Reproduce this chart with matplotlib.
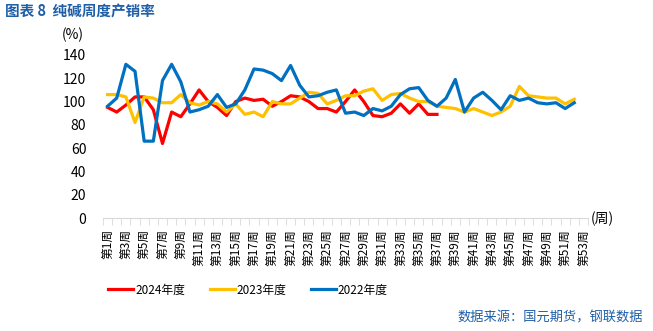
import numpy as np
import matplotlib.pyplot as plt

plt.rcParams['font.family'] = ['Noto Sans CJK SC', 'DejaVu Sans']

# 周度产销率 (%)
weeks = ['第%d周' % i for i in range(1, 54)]
y2024 = [95, 91, 97, 104, 104, 93, 64, 91, 87, 98, 110, 100, 95, 88, 100, 103, 101, 102, 96,
         100, 105, 104, 100, 94, 94, 91, 100, 110, 100, 88, 87, 90, 98, 90, 98, 89, 89]
y2023 = [106, 106, 104, 82, 104, 103, 99, 99, 106, 99, 97, 100, 98, 91, 98, 89, 91, 87, 100,
         98, 98, 103, 108, 107, 98, 101, 105, 105, 109, 111, 101, 106, 107, 103, 100, 100, 96,
         95, 94, 91, 94, 91, 88, 91, 96, 113, 105, 104, 103, 103, 98, 102]
y2022 = [96, 103, 132, 126, 66, 66, 118, 132, 117, 91, 93, 96, 106, 95, 98, 110, 128, 127, 124,
         118, 131, 114, 104, 105, 108, 110, 90, 91, 88, 94, 92, 96, 106, 111, 112, 101, 96, 103,
         119, 91, 103, 108, 101, 93, 105, 101, 103, 99, 98, 99, 94, 99]
series = [('2024年度', y2024, '#FF0000'),
          ('2023年度', y2023, '#FFC000'),
          ('2022年度', y2022, '#0070C0')]

fig = plt.figure(figsize=(6.53, 3.31), dpi=100)
ax = fig.add_axes([103 / 653, 1 - 218 / 331, 485 / 653, 163 / 331])

for name, vals, col in series:
    ax.plot(np.arange(len(vals)), vals, color=col, lw=2.3, label=name)

ax.set_xlim(-0.5, len(weeks) - 0.5)
ax.set_ylim(0, 140)
ax.set_yticks(range(0, 141, 20))
ax.tick_params(axis='y', length=0, pad=12, labelsize=10)

ax.set_xticks(np.arange(0, len(weeks), 2))
ax.set_xticklabels(weeks[::2], rotation=90, fontsize=8.5)
ax.set_xticks(np.arange(-0.5, len(weeks)), minor=True)
ax.tick_params(axis='x', which='major', length=0, pad=8)
ax.tick_params(axis='x', which='minor', length=5, color='#D9D9D9')

for s in ['top', 'right', 'left']:
    ax.spines[s].set_visible(False)
ax.spines['bottom'].set_color('#D9D9D9')

fig.text(73 / 653, 1 - 35 / 331, '(%)', ha='center', va='center', fontsize=10)
fig.text(591 / 653, 1 - 219 / 331, '(周)', ha='left', va='center', fontsize=10)
fig.text(5 / 653, 1 - 12 / 331, '图表 8  纯碱周度产销率', ha='left', va='center',
         fontsize=10.5, color='#1F5FA8', fontweight='bold')
fig.text(643 / 653, 1 - 318 / 331, '数据来源：国元期货，钢联数据', ha='right', va='center',
         fontsize=9.5, color='#1F5FA8')

fig.legend(loc='center', bbox_to_anchor=(248 / 653, 1 - 290 / 331), ncol=3, frameon=False,
           fontsize=8.5, handlelength=2.1, handletextpad=0.15, columnspacing=2.1)

fig.savefig('out.png', dpi=100)
